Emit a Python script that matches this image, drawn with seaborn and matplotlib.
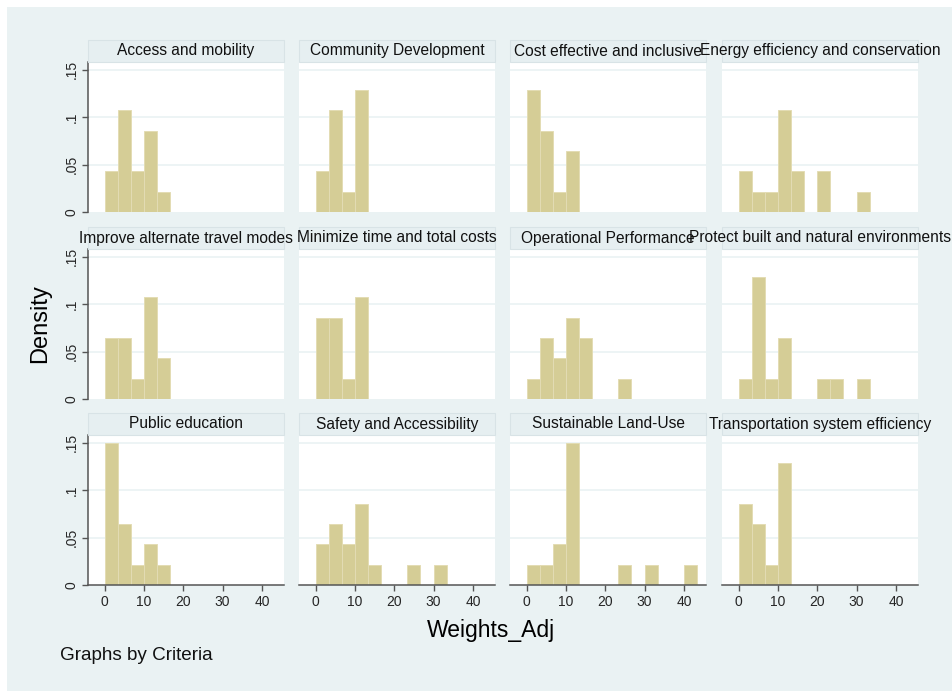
import numpy as np
import pandas as pd
import matplotlib
matplotlib.use("Agg")
import matplotlib.pyplot as plt
import seaborn as sns
from matplotlib.patches import Rectangle

sns.set_style("white")
plt.rcParams['font.family'] = ['Liberation Sans', 'DejaVu Sans']

# ---- data: counts per bin (bin width 10/3, starting at 0) ----
criteria = [
    "Access and mobility", "Community Development", "Cost effective and inclusive",
    "Energy efficiency and conservation", "Improve alternate travel modes",
    "Minimize time and total costs", "Operational Performance",
    "Protect built and natural environments", "Public education",
    "Safety and Accessibility", "Sustainable Land-Use",
    "Transportation system efficiency",
]
counts_access = [2, 5, 2, 4, 1]
counts_community = [2, 5, 1, 6]
counts_cost = [6, 4, 1, 3]
counts_energy = [2, 1, 1, 5, 2, 0, 2, 0, 0, 1]
counts_alternate = [3, 3, 1, 5, 2]
counts_minimize = [4, 4, 1, 5]
counts_operational = [1, 3, 2, 4, 3, 0, 0, 1]
counts_protect = [1, 6, 1, 3, 0, 0, 1, 1, 0, 1]
counts_public = [7, 3, 1, 2, 1]
counts_safety = [2, 3, 2, 4, 1, 0, 0, 1, 0, 1]
counts_landuse = [1, 1, 2, 7, 0, 0, 0, 1, 0, 1, 0, 0, 1]
counts_transport = [4, 3, 1, 6]
all_counts = [counts_access, counts_community, counts_cost, counts_energy,
              counts_alternate, counts_minimize, counts_operational, counts_protect,
              counts_public, counts_safety, counts_landuse, counts_transport]
bin_width = 10 / 3
n_bins = 13
y_ticks = [0, 0.05, 0.1, 0.15]
y_ticklabels = ["0", ".05", ".1", ".15"]
x_ticks = [0, 10, 20, 30, 40]
x_ticklabels = ["0", "10", "20", "30", "40"]

BG = "#eaf2f3"
BAR = "#d5cd96"
AXC = "#555555"

W, H = 952, 691
fig = plt.figure(figsize=(W / 100, H / 100), dpi=100)
fig.patch.set_facecolor("white")
fig.add_artist(Rectangle((7 / W, 0), 1, 1 - 7 / H, transform=fig.transFigure,
                         facecolor=BG, edgecolor="none", zorder=0))

lefts = [88, 299, 510, 722]
tops = [62, 249, 435]
pw, ph = 196, 150
strip_h = 22

for idx, (name, cnts) in enumerate(zip(criteria, all_counts)):
    r, c = divmod(idx, 4)
    lx, ty = lefts[c], tops[r]
    ax = fig.add_axes([lx / W, 1 - (ty + ph) / H, pw / W, ph / H])
    ax.set_facecolor("white")
    centers = (np.arange(len(cnts)) + 0.5) * bin_width
    df = pd.DataFrame({"x": centers, "w": np.array(cnts, dtype=float)})
    sns.histplot(data=df, x="x", weights="w", binwidth=bin_width,
                 binrange=(0, n_bins * bin_width), stat="density",
                 ax=ax, color=BAR, edgecolor="#e3dcb4", linewidth=0.7, alpha=1)
    ax.set_xlim(-4.2, 45.6)
    ax.set_ylim(0, 0.158)
    ax.set_xlabel("")
    ax.set_ylabel("")
    for yv in y_ticks[1:]:
        ax.axhline(yv, color=BG, lw=1.2, zorder=0.5)
    for s in ax.spines.values():
        s.set_visible(False)
    ax.set_yticks(y_ticks)
    ax.set_xticks(x_ticks)
    if c == 0:
        ax.spines["left"].set_visible(True)
        ax.spines["left"].set_color(AXC)
        ax.spines["left"].set_linewidth(1.1)
        ax.set_yticklabels(y_ticklabels, rotation=90, va="center", fontsize=10)
        ax.tick_params(axis="y", left=True, length=4, color=AXC, width=1, pad=3)
    else:
        ax.tick_params(axis="y", left=False, labelleft=False)
    if r == 2:
        ax.spines["bottom"].set_visible(True)
        ax.spines["bottom"].set_color(AXC)
        ax.spines["bottom"].set_linewidth(1.1)
        ax.set_xticklabels(x_ticklabels, fontsize=10)
        ax.tick_params(axis="x", bottom=True, length=4, color=AXC, width=1, pad=3)
    else:
        ax.tick_params(axis="x", bottom=False, labelbottom=False)
    fig.add_artist(Rectangle((lx / W, 1 - ty / H), pw / W, strip_h / H,
                             transform=fig.transFigure, facecolor="#e6eff1",
                             edgecolor="#d8e3e6", linewidth=0.8, zorder=1))
    fig.text((lx + pw / 2) / W, 1 - (ty - strip_h / 2) / H, name,
             ha="center", va="center", fontsize=11.2, color="#111111", zorder=3)

fig.text(40 / W, 1 - 324 / H, "Density", rotation=90, ha="center", va="center",
         fontsize=17, color="black")
fig.text(491 / W, 1 - 630 / H, "Weights_Adj", ha="center", va="center",
         fontsize=16.5, color="black")
fig.text(60 / W, 1 - 656 / H, "Graphs by Criteria", ha="left", va="center",
         fontsize=13.6, color="#111111")

fig.savefig("out.png", dpi=100, facecolor=fig.get_facecolor())
